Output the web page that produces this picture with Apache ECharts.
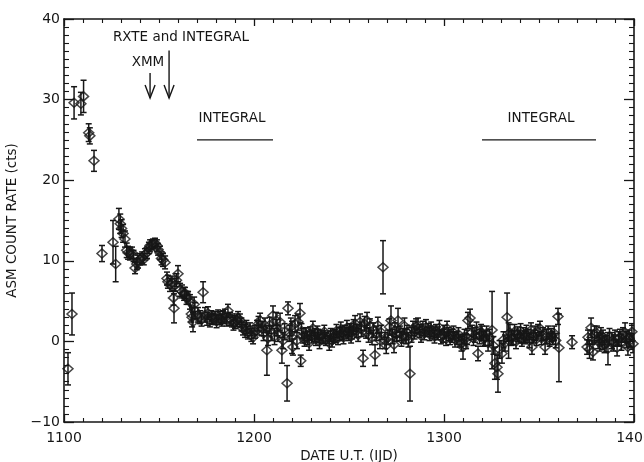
<!DOCTYPE html>
<html>
<head>
<meta charset="utf-8">
<title>ASM count rate</title>
<script src="https://cdn.jsdelivr.net/npm/echarts@6.0.0/dist/echarts.min.js"></script>
<style>
  html, body { margin: 0; padding: 0; background: #fff; }
  #chart { width: 644px; height: 462px; }
</style>
</head>
<body>
<div id="chart"></div>
<script>
// ASM one-day averages: date (IJD), count rate (cts), 1-sigma error
const ijd = [
  1102.1, 1104.2, 1105.3, 1108.9, 1110.3, 1113.0, 1113.6, 1115.8, 1120.0, 1125.8,
  1127.2, 1128.9, 1129.6, 1130.3, 1131.1, 1132.1, 1133.0, 1133.7, 1134.7, 1135.8,
  1136.6, 1137.4, 1138.3, 1138.9, 1140.0, 1141.1, 1142.0, 1142.6, 1143.7, 1144.7,
  1145.3, 1146.2, 1146.8, 1147.9, 1148.9, 1149.5, 1150.5, 1151.3, 1152.1, 1153.2,
  1154.2, 1154.7, 1155.8, 1156.8, 1157.6, 1157.9, 1158.4, 1159.2, 1160.0, 1161.1,
  1162.1, 1163.2, 1163.7, 1164.5, 1165.3, 1166.3, 1167.0, 1167.4, 1167.9, 1168.5,
  1168.9, 1170.5, 1171.6, 1172.4, 1173.2, 1174.2, 1175.3, 1175.8, 1176.8, 1177.6,
  1178.4, 1179.5, 1180.3, 1181.1, 1182.1, 1183.0, 1183.7, 1184.7, 1185.6, 1186.3,
  1187.4, 1188.4, 1189.2, 1190.0, 1191.0, 1191.6, 1192.6, 1193.4, 1194.2, 1195.3,
  1196.0, 1196.8, 1197.9, 1198.6, 1199.5, 1200.5, 1201.6, 1202.4, 1203.2, 1204.2,
  1205.0, 1205.8, 1206.8, 1207.4, 1208.2, 1209.0, 1210.0, 1210.8, 1211.6, 1212.1,
  1212.6, 1213.7, 1214.7, 1215.3, 1216.1, 1217.4, 1217.9, 1218.7, 1219.4, 1220.0,
  1220.5, 1221.6, 1222.6, 1223.2, 1224.2, 1224.6, 1225.0, 1225.8, 1226.6, 1227.4,
  1228.2, 1229.0, 1229.5, 1230.3, 1231.0, 1231.8, 1232.6, 1233.4, 1233.7, 1234.5,
  1235.3, 1236.3, 1237.0, 1237.8, 1238.9, 1239.6, 1240.4, 1241.1, 1241.9, 1242.6,
  1243.4, 1244.2, 1245.0, 1245.7, 1246.3, 1247.1, 1247.9, 1248.9, 1249.6, 1250.4,
  1251.1, 1251.6, 1252.4, 1253.2, 1254.0, 1254.8, 1255.8, 1256.5, 1257.4, 1258.2,
  1259.0, 1259.5, 1260.3, 1261.0, 1262.1, 1262.8, 1263.7, 1264.5, 1265.2, 1266.3,
  1267.0, 1267.9, 1268.9, 1269.6, 1270.5, 1271.3, 1272.1, 1273.0, 1273.7, 1274.2,
  1275.0, 1275.8, 1276.8, 1277.6, 1278.4, 1279.2, 1280.0, 1280.5, 1281.3, 1282.1,
  1282.9, 1283.7, 1284.5, 1285.3, 1286.3, 1287.1, 1287.9, 1288.9, 1289.7, 1290.5,
  1291.6, 1292.4, 1293.2, 1294.2, 1295.0, 1295.8, 1296.8, 1297.6, 1298.4, 1299.5,
  1300.3, 1301.1, 1301.6, 1302.4, 1303.2, 1304.2, 1305.0, 1305.8, 1306.8, 1307.6,
  1308.4, 1309.2, 1310.0, 1310.8, 1311.6, 1312.1, 1312.6, 1313.7, 1314.7, 1315.5,
  1316.3, 1317.1, 1317.9, 1318.7, 1319.5, 1320.0, 1320.8, 1321.6, 1322.4, 1323.2,
  1324.0, 1325.3, 1326.0, 1326.8, 1327.9, 1328.4, 1329.2, 1330.5, 1331.3, 1332.1,
  1333.2, 1334.0, 1334.7, 1335.5, 1336.3, 1337.1, 1337.9, 1338.7, 1339.5, 1340.3,
  1341.0, 1341.8, 1342.6, 1343.4, 1344.2, 1345.0, 1345.8, 1346.3, 1347.1, 1347.9,
  1348.7, 1349.5, 1350.5, 1351.3, 1352.1, 1353.2, 1354.0, 1354.8, 1355.6, 1356.4,
  1357.2, 1358.0, 1358.8, 1360.0, 1360.5, 1367.4, 1375.3, 1375.8, 1376.6, 1377.4,
  1377.9, 1378.4, 1379.2, 1380.5, 1381.1, 1381.9, 1382.6, 1383.2, 1383.7, 1384.5,
  1385.3, 1386.3, 1387.1, 1388.4, 1389.2, 1390.0, 1391.1, 1391.8, 1392.6, 1393.4,
  1394.2, 1395.3, 1396.0, 1396.8, 1397.4, 1397.9, 1398.9, 1399.5
];
const rate = [
  -3.4, 3.4, 29.6, 29.5, 30.4, 25.9, 25.5, 22.4, 10.9, 12.3,
  9.6, 15.2, 14.6, 14.0, 13.4, 12.7, 11.3, 11.0, 10.9, 11.0,
  10.6, 9.1, 9.6, 9.9, 10.2, 10.4, 10.2, 10.8, 11.0, 11.6,
  11.9, 12.0, 12.1, 12.2, 11.9, 11.4, 11.0, 10.3, 10.1, 9.8,
  7.8, 7.4, 7.0, 7.3, 5.4, 4.1, 7.0, 7.6, 8.4, 6.4,
  6.2, 5.9, 6.0, 5.4, 5.4, 4.9, 3.4, 3.0, 2.4, 4.6,
  3.8, 3.3, 3.0, 2.7, 6.1, 3.3, 2.8, 3.5, 2.6, 3.0,
  2.8, 2.9, 2.5, 3.1, 2.9, 2.6, 3.0, 3.2, 2.7, 3.8,
  2.8, 2.6, 2.2, 2.4, 2.6, 2.9, 2.6, 2.1, 1.6, 1.3,
  1.8, 1.1, 1.5, 0.8, 0.5, 1.2, 1.7, 2.2, 2.6, 1.6,
  1.0, 2.0, -1.1, 0.4, 2.0, 1.0, 3.2, 0.6, 2.6, 1.7,
  1.0, 2.4, -1.1, 0.1, 1.2, -5.2, 4.1, 1.0, 1.8, 0.5,
  -0.7, 2.2, 0.1, 2.4, 3.5, -2.4, 1.3, 0.7, 0.2, 0.9,
  0.4, -0.2, 1.0, 0.6, 1.6, 0.8, 0.3, 1.1, 0.7, 0.0,
  0.6, 0.5, 1.2, 0.3, 0.5, -0.2, 0.8, 0.1, 0.6, 0.7,
  1.3, 0.4, 0.9, 1.5, 1.0, 0.5, 1.2, 1.7, 0.9, 1.4,
  0.6, 1.1, 1.8, 2.2, 1.3, 0.8, 2.4, 1.5, -2.1, 2.2,
  1.2, 2.6, 0.8, 1.9, 0.5, 1.4, -1.7, 1.0, 2.0, 0.1,
  1.1, 9.2, 0.1, -0.5, 0.5, 1.8, 2.6, 0.6, -0.4, 1.4,
  0.9, 2.6, 1.0, 0.3, 0.7, 1.9, 0.6, 1.1, 0.2, -4.0,
  0.8, 1.6, 1.1, 1.9, 2.0, 1.3, 0.7, 1.6, 1.0, 1.8,
  1.4, 0.9, 1.5, 1.1, 0.6, 1.3, 1.0, 1.7, 0.5, 0.7,
  1.2, 0.3, 1.6, 0.9, 0.4, 0.7, 1.1, 0.2, 0.4, 0.9,
  0.1, -0.3, -0.7, 0.6, 0.0, 0.5, 2.6, 2.9, 1.1, 0.4,
  0.8, 1.4, -1.5, 0.6, 1.2, 1.0, 0.3, 0.4, 1.0, -0.2,
  0.5, 1.4, -0.5, -2.7, -3.2, -4.0, -1.0, -1.5, 0.2, -0.2,
  3.0, 0.1, 1.1, 0.4, 0.5, 1.2, 0.0, 0.9, 0.6, 1.3,
  0.2, 0.8, 0.5, 1.1, 0.7, 0.1, 1.4, -0.7, 0.6, 1.0,
  0.3, 1.2, 1.6, 0.4, 0.9, -0.7, 0.6, 1.1, 0.2, 0.8,
  0.4, 1.0, 0.1, 3.1, -0.8, -0.1, -0.7, 0.5, -1.0, 1.7,
  0.5, -1.3, 0.9, 1.0, 0.1, -0.2, 0.8, 0.0, 0.5, -0.4,
  -0.3, -0.9, 0.6, 0.1, -0.2, 0.4, -0.8, 0.3, 0.5, -0.1,
  0.8, 1.1, 0.2, -0.7, 0.4, 0.1, 1.2, -0.3
];
const rateErr = [
  2.0, 2.6, 2.0, 1.4, 2.0, 1.1, 1.0, 1.3, 1.0, 2.7,
  2.2, 1.3, 1.2, 1.1, 1.1, 1.0, 0.9, 0.8, 0.8, 0.7,
  0.7, 0.7, 0.7, 0.8, 0.7, 0.7, 0.7, 0.7, 0.7, 0.7,
  0.7, 0.6, 0.6, 0.6, 0.7, 0.7, 0.8, 0.8, 0.8, 0.8,
  0.8, 0.8, 0.8, 0.8, 0.9, 1.8, 0.8, 0.8, 1.0, 0.8,
  0.8, 0.8, 0.7, 0.8, 0.8, 0.9, 1.0, 1.2, 1.2, 0.9,
  1.0, 0.9, 0.8, 0.8, 1.3, 0.9, 0.8, 0.8, 0.8, 0.8,
  0.7, 0.8, 0.8, 0.8, 0.8, 0.7, 0.8, 0.8, 0.8, 0.8,
  0.8, 0.8, 0.8, 0.8, 0.8, 0.8, 0.8, 0.8, 0.8, 0.8,
  0.8, 0.8, 0.8, 0.8, 0.8, 0.8, 0.9, 0.9, 0.9, 0.9,
  0.9, 0.9, 3.1, 0.9, 1.0, 0.9, 1.2, 1.0, 1.0, 1.0,
  1.0, 1.1, 1.6, 1.0, 1.0, 2.2, 0.8, 1.0, 1.1, 2.0,
  1.0, 1.0, 1.0, 1.0, 1.2, 0.7, 0.9, 0.9, 0.8, 0.8,
  0.8, 0.9, 0.8, 0.8, 0.9, 0.8, 0.8, 0.8, 0.8, 0.9,
  0.8, 0.8, 0.8, 0.8, 0.8, 0.9, 0.8, 0.8, 0.8, 0.8,
  0.8, 0.8, 0.8, 0.9, 0.8, 0.8, 0.8, 0.9, 0.8, 0.8,
  0.8, 0.8, 0.9, 1.0, 0.8, 0.8, 1.0, 0.9, 1.0, 0.9,
  0.8, 1.0, 0.9, 0.9, 0.9, 0.9, 1.3, 0.9, 1.0, 1.0,
  0.9, 3.3, 1.0, 1.0, 0.9, 1.0, 1.8, 0.9, 1.0, 0.9,
  0.9, 1.5, 0.9, 0.9, 0.9, 1.0, 0.9, 0.9, 0.9, 3.4,
  0.9, 0.9, 0.8, 0.9, 0.9, 0.8, 0.8, 0.9, 0.8, 0.9,
  0.8, 0.8, 0.9, 0.8, 0.8, 0.8, 0.8, 0.9, 0.8, 0.8,
  0.8, 0.8, 0.9, 0.8, 0.8, 0.8, 0.8, 0.9, 0.8, 0.8,
  0.8, 0.9, 1.5, 0.9, 0.9, 0.9, 1.0, 1.1, 0.9, 0.9,
  0.9, 1.0, 0.9, 0.9, 0.9, 0.9, 0.9, 0.9, 0.9, 1.0,
  1.0, 4.8, 1.1, 2.0, 1.5, 2.3, 1.1, 1.2, 1.0, 1.0,
  3.0, 2.2, 1.0, 0.9, 0.9, 0.9, 0.9, 0.9, 0.8, 0.9,
  0.8, 0.9, 0.8, 0.9, 0.8, 0.9, 0.9, 0.9, 0.8, 0.9,
  0.8, 0.9, 0.9, 0.8, 0.8, 0.9, 0.9, 0.8, 0.8, 0.8,
  0.8, 0.9, 0.9, 1.0, 4.2, 0.8, 0.9, 0.9, 1.1, 1.2,
  0.9, 1.0, 1.0, 0.9, 1.0, 1.0, 0.9, 1.0, 0.9, 1.0,
  1.0, 2.0, 1.0, 1.0, 1.0, 1.0, 1.0, 0.9, 1.0, 1.0,
  0.9, 1.2, 1.0, 1.0, 1.0, 0.9, 1.0, 1.1
];

// observation markers
const arrowDays = [1145.3, 1155.3];      // XMM, RXTE and INTEGRAL
const arrowTop = [33.3, 36.1];
const arrowTip = [30.2, 30.2];
const integralStart = [1170, 1320];
const integralEnd = [1210, 1380];
const integralLevel = [25, 25];

const FONT = 'DejaVu Sans';
const INK = '#161616';

const points = ijd.map((d, i) => [d, rate[i]]);
const errBars = ijd.map((d, i) => [d, rate[i] - rateErr[i], rate[i] + rateErr[i]]);
const arrows = arrowDays.map((d, i) => [d, arrowTop[i], arrowTip[i]]);
const integral = integralStart.map((s, i) => [s, integralEnd[i], integralLevel[i]]);

const chart = echarts.init(document.getElementById('chart'));

// error bar with small caps
function renderErr(params, api) {
  const lo = api.coord([api.value(0), api.value(1)]);
  const hi = api.coord([api.value(0), api.value(2)]);
  const w = 3;
  const st = { stroke: INK, lineWidth: 1.5 };
  return {
    type: 'group',
    children: [
      { type: 'line', shape: { x1: lo[0], y1: lo[1], x2: hi[0], y2: hi[1] }, style: st },
      { type: 'line', shape: { x1: lo[0] - w, y1: lo[1], x2: lo[0] + w, y2: lo[1] }, style: st },
      { type: 'line', shape: { x1: hi[0] - w, y1: hi[1], x2: hi[0] + w, y2: hi[1] }, style: st }
    ]
  };
}

// down arrow with open head
function renderArrow(params, api) {
  const top = api.coord([api.value(0), api.value(1)]);
  const tip = api.coord([api.value(0), api.value(2)]);
  const st = { stroke: INK, lineWidth: 1.4, fill: null };
  return {
    type: 'group',
    children: [
      { type: 'line', shape: { x1: top[0], y1: top[1], x2: tip[0], y2: tip[1] }, style: st },
      { type: 'polyline', shape: { points: [[tip[0] - 5, tip[1] - 13], [tip[0], tip[1]], [tip[0] + 5, tip[1] - 13]] }, style: st }
    ]
  };
}

function renderSpan(params, api) {
  const a = api.coord([api.value(0), api.value(2)]);
  const b = api.coord([api.value(1), api.value(2)]);
  return {
    type: 'line',
    shape: { x1: a[0], y1: a[1], x2: b[0], y2: b[1] },
    style: { stroke: INK, lineWidth: 1.4 }
  };
}

const axisLine = { show: true, onZero: false, lineStyle: { color: INK, width: 1.6 } };
const labelStyle = { color: INK, fontFamily: FONT, fontSize: 14 };
const annot = { font: '13.5px "DejaVu Sans"', fill: INK, align: 'center', verticalAlign: 'middle' };

const option = {
  animation: false,
  backgroundColor: '#fff',
  grid: { left: 64, right: 10, top: 19, bottom: 40, containLabel: false, outerBoundsMode: 'none' },
  xAxis: [
    {
      type: 'value', min: 1100, max: 1400, interval: 100, position: 'bottom',
      axisLine: axisLine,
      axisTick: { inside: true, length: 8, lineStyle: { color: INK, width: 1.3 } },
      minorTick: { show: true, splitNumber: 10, length: 4, lineStyle: { color: INK, width: 1.1 } },
      axisLabel: Object.assign({ margin: 9, formatter: v => String(v) }, labelStyle),
      splitLine: { show: false },
      name: 'DATE U.T. (IJD)', nameLocation: 'middle', nameGap: 19,
      nameTextStyle: { color: INK, fontFamily: FONT, fontSize: 13.5 }
    },
    {
      type: 'value', min: 1100, max: 1400, interval: 100, position: 'top',
      axisLine: axisLine,
      axisTick: { inside: true, length: 7, lineStyle: { color: INK, width: 1.3 } },
      minorTick: { show: true, splitNumber: 10, length: 4, lineStyle: { color: INK, width: 1.1 } },
      axisLabel: { show: false },
      splitLine: { show: false }
    }
  ],
  yAxis: [
    {
      type: 'value', min: -10, max: 40, interval: 10, position: 'left',
      axisLine: axisLine,
      axisTick: { inside: true, length: 10, lineStyle: { color: INK, width: 1.3 } },
      minorTick: { show: true, splitNumber: 10, length: 5, lineStyle: { color: INK, width: 1.1 } },
      axisLabel: Object.assign({ margin: 4, formatter: v => String(v).replace('-', '\u2212') }, labelStyle),
      splitLine: { show: false },
      name: 'ASM COUNT RATE (cts)', nameLocation: 'middle', nameGap: 37,
      nameTextStyle: { color: INK, fontFamily: FONT, fontSize: 13.5 }
    },
    {
      type: 'value', min: -10, max: 40, interval: 10, position: 'right',
      axisLine: axisLine,
      axisTick: { inside: true, length: 10, lineStyle: { color: INK, width: 1.3 } },
      minorTick: { show: true, splitNumber: 10, length: 5, lineStyle: { color: INK, width: 1.1 } },
      axisLabel: { show: false },
      splitLine: { show: false }
    }
  ],
  graphic: [
    { type: 'text', x: 181, y: 37, style: Object.assign({ text: 'RXTE and INTEGRAL' }, annot) },
    { type: 'text', x: 148, y: 62, style: Object.assign({ text: 'XMM' }, annot) },
    { type: 'text', x: 232, y: 118, style: Object.assign({ text: 'INTEGRAL' }, annot) },
    { type: 'text', x: 541, y: 118, style: Object.assign({ text: 'INTEGRAL' }, annot) }
  ],
  series: [
    {
      type: 'custom', name: 'error', renderItem: renderErr, data: errBars,
      encode: { x: 0, y: [1, 2] }, clip: true, silent: true
    },
    {
      type: 'scatter', name: 'ASM', data: points,
      symbol: 'diamond', symbolSize: [10, 9],
      itemStyle: { color: 'rgba(255,255,255,0)', borderColor: INK, borderWidth: 1.5 },
      silent: true
    },
    {
      type: 'custom', name: 'pointings', renderItem: renderArrow, data: arrows,
      encode: { x: 0, y: [1, 2] }, silent: true
    },
    {
      type: 'custom', name: 'INTEGRAL', renderItem: renderSpan, data: integral,
      encode: { x: [0, 1], y: 2 }, silent: true
    }
  ]
};

chart.setOption(option);
</script>
</body>
</html>
